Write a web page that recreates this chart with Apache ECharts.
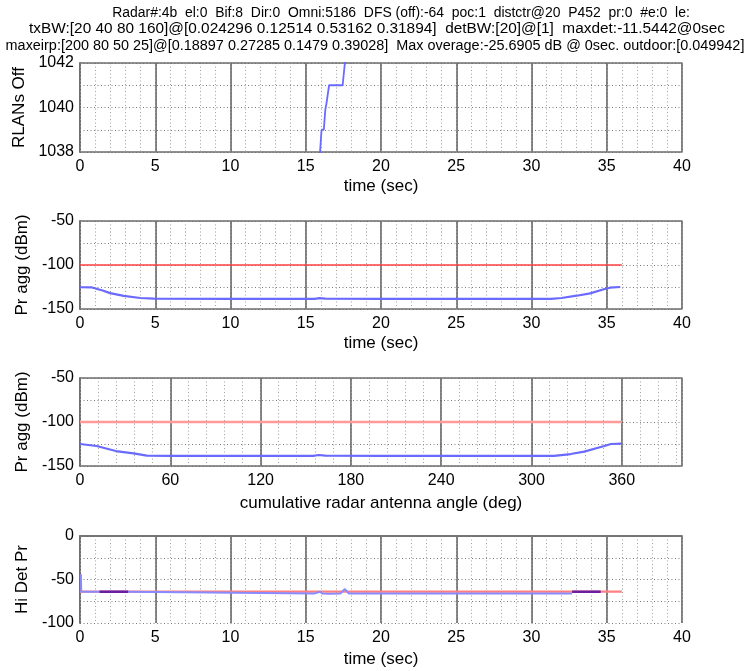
<!DOCTYPE html>
<html>
<head>
<meta charset="utf-8">
<title>Radar aggregate interference</title>
<script src="https://cdn.jsdelivr.net/npm/echarts@6/dist/echarts.min.js"></script>
<style>
  html, body { margin: 0; padding: 0; background: #fff; }
  #chart { width: 749px; height: 671px; }
</style>
</head>
<body>
<div id="chart"></div>
<script>
// ---- header text ----
const titleLines = [
  'Radar#:4b  el:0  Bif:8  Dir:0  Omni:5186  DFS (off):-64  poc:1  distctr@20  P452  pr:0  #e:0  le:',
  'txBW:[20 40 80 160]@[0.024296 0.12514 0.53162 0.31894]  detBW:[20]@[1]  maxdet:-11.5442@0sec',
  'maxeirp:[200 80 50 25]@[0.18897 0.27285 0.1479 0.39028]  Max overage:-25.6905 dB @ 0sec. outdoor:[0.049942]'
];

// ---- panel 1: RLANs switched off vs time ----
const rlanTime = [15.9, 15.95, 16.05, 16.2, 16.3, 16.38, 16.55, 17.45, 17.6, 17.75];
const rlanOff  = [1037, 1038, 1039, 1039, 1039.9, 1040.2, 1041, 1041, 1042, 1043];

// ---- panel 2: aggregate received power vs time ----
const aggTime = [0, 0.8, 1.5, 2, 2.9, 4, 4.9, 10, 15.6, 15.9, 16.3, 20, 25, 31.3, 32, 33, 33.9, 34.8, 35.2, 35.9];
const aggPr   = [-125.3, -125.5, -129, -132, -135, -137.5, -138.3, -138.4, -138.4, -137.6, -138.3, -138.4, -138.4, -138.4, -137.5, -134.9, -132.2, -127.6, -125.8, -125];
const thrTime = [0, 36];
const thrPr   = [-100, -100];

// ---- panel 3: aggregate received power vs antenna angle ----
const aggAngle = [0, 11, 23.8, 35.5, 44.4, 60, 120, 155, 158.7, 163, 200, 260, 315, 326, 335, 348.4, 352.8, 360];
const aggPrAng = [-125, -127.3, -133, -135.6, -138.3, -138.4, -138.4, -138.4, -137.5, -138.3, -138.4, -138.4, -138.4, -136.4, -133.7, -127.3, -125, -124.6];
const thrAngle = [0, 360];
const thrPrAng = [-100, -100];

// ---- panel 4: highest detected power vs time ----
const detTime = [0.06, 0.08, 3.2, 3.3, 15.6, 15.7, 15.95, 16.1, 16.5, 17.3, 17.6, 17.85, 25, 32.7];
const detPr   = [-44, -64, -64, -66, -66, -64, -64, -66, -66.5, -66, -61, -66, -66, -66];
const detThrTime = [0, 36];
const detThrPr   = [-64, -64];
const overlapA_time = [1.3, 3.2];
const overlapA_pr   = [-64, -64];
const overlapB_time = [32.7, 34.6];
const overlapB_pr   = [-64, -64];

const timeTicks  = { min: 0, max: 40, step: 5, minor: 1 };
const angleTicks = { min: 0, max: 400, step: 60, minor: 12, lastLabel: 360 };

const FONT = '"Liberation Sans", Arial, Helvetica, sans-serif';
const pairs = (xs, ys) => xs.map((x, i) => [x, ys[i]]);

const panels = [
  { top: 63,  height: 89 },
  { top: 221, height: 88 },
  { top: 378, height: 88 },
  { top: 536, height: 87 }
];

const grid = panels.map(p => ({ left: 80, width: 602, top: p.top, height: p.height }));

const borderLine = { show: true, lineStyle: { color: '#6e6e6e', width: 1.5 } };
const majorSplit = { show: true, lineStyle: { color: '#555', width: 1.5, type: 'solid' } };
const minorSplitV = { show: true, lineStyle: { color: '#a0a0a0', width: 1, type: [1, 2.5] } };
const minorSplitH = { show: true, lineStyle: { color: '#7a7a7a', width: 1, type: [1, 2.5] } };
const tickLabel = { color: '#000', fontSize: 16, fontFamily: FONT };
const nameStyle = { color: '#000', fontSize: 17, fontFamily: FONT };

function xAxesFor(gi, t, name, nameGap) {
  return [
    {
      type: 'value', gridIndex: gi, position: 'bottom',
      min: t.min, max: t.max, interval: t.step,
      axisLine: borderLine, axisTick: { show: false },
      axisLabel: Object.assign({}, tickLabel, {
        margin: 7,
        formatter: v => (t.lastLabel !== undefined && v > t.lastLabel) ? '' : String(v)
      }),
      splitLine: majorSplit,
      name: name, nameLocation: 'middle', nameGap: nameGap, nameTextStyle: nameStyle
    },
    {
      type: 'value', gridIndex: gi, position: 'top',
      min: t.min, max: t.max, interval: t.minor,
      axisLine: borderLine, axisTick: { show: false }, axisLabel: { show: false },
      splitLine: minorSplitV, z: 1
    }
  ];
}

function yAxesFor(gi, min, max, minor, labelStep, name, nameGap) {
  return [
    {
      type: 'value', gridIndex: gi, position: 'left',
      min: min, max: max, interval: minor,
      axisLine: borderLine,
      axisTick: { show: false },
      axisLabel: Object.assign({}, tickLabel, {
        margin: 6,
        formatter: v => (Math.abs(v % labelStep) < 1e-9 ? String(v) : '')
      }),
      splitLine: minorSplitH,
      name: name, nameLocation: 'middle', nameGap: nameGap, nameRotate: 90, nameTextStyle: nameStyle
    },
    {
      type: 'value', gridIndex: gi, position: 'right',
      min: min, max: max, interval: minor,
      axisLine: borderLine, axisTick: { show: false }, axisLabel: { show: false },
      splitLine: { show: false }
    }
  ];
}

const xAxis = [].concat(
  xAxesFor(0, timeTicks, 'time (sec)', 26),
  xAxesFor(1, timeTicks, 'time (sec)', 26),
  xAxesFor(2, angleTicks, 'cumulative radar antenna angle (deg)', 29),
  xAxesFor(3, timeTicks, 'time (sec)', 28)
);

const yAxis = [].concat(
  yAxesFor(0, 1038, 1042, 1, 2, 'RLANs Off', 51),
  yAxesFor(1, -150, -50, 25, 50, 'Pr agg (dBm)', 47),
  yAxesFor(2, -150, -50, 25, 50, 'Pr agg (dBm)', 47),
  yAxesFor(3, -100, 0, 25, 50, 'Hi Det Pr', 49)
);

function line(gi, data, color, width, z) {
  return {
    type: 'line', xAxisIndex: gi * 2, yAxisIndex: gi * 2,
    data: data, showSymbol: false, symbol: 'none', clip: true,
    lineStyle: { color: color, width: width }, z: z || 3,
    silent: true, animation: false
  };
}

const series = [
  line(0, pairs(rlanTime, rlanOff), '#6a6aff', 1.8),
  line(1, pairs(thrTime, thrPr), '#ff4040', 1.4),
  line(1, pairs(aggTime, aggPr), '#6a6aff', 2.2),
  line(2, pairs(thrAngle, thrPrAng), '#ff9a9a', 2.5),
  line(2, pairs(aggAngle, aggPrAng), '#6a6aff', 2.2),
  line(3, pairs(detThrTime, detThrPr), '#ff8080', 2.2, 3),
  line(3, pairs(detTime, detPr), '#8a8aff', 2, 4),
  line(3, pairs(overlapA_time, overlapA_pr), '#6a1fa0', 2.6, 5),
  line(3, pairs(overlapB_time, overlapB_pr), '#6a1fa0', 2.6, 5)
];

// header lines: centre x and horizontal stretch for each line
const titleCentre = [401, 377, 375];
const titleStretch = [0.995, 1.1, 1.03];
const graphic = titleLines.map((t, i) => ({
  type: 'text',
  x: titleCentre[i],
  y: 13 + i * 16.5,
  scaleX: titleStretch[i],
  style: {
    text: t, fill: '#000', font: '14px ' + FONT,
    textAlign: 'center', textVerticalAlign: 'middle'
  },
  silent: true
}));

const chart = echarts.init(document.getElementById('chart'), null, { renderer: 'canvas' });
chart.setOption({
  backgroundColor: '#fff',
  animation: false,
  grid: grid,
  xAxis: xAxis,
  yAxis: yAxis,
  series: series,
  graphic: graphic
});
</script>
</body>
</html>
